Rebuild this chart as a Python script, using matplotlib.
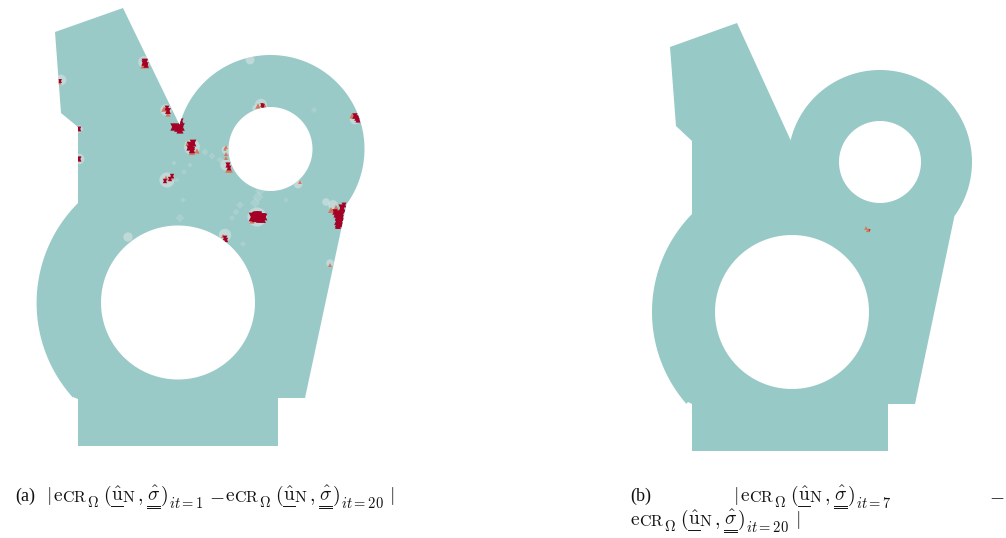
import numpy as np
import matplotlib.pyplot as plt
from matplotlib.path import Path
from matplotlib.patches import PathPatch

plt.rcParams["font.family"] = ["Liberation Serif", "DejaVu Serif"]
plt.rcParams["mathtext.fontset"] = "cm"

TEAL_A = "#99cac8"
TEAL_B = "#97c9c7"
DARK = "#a50026"
ORANGE = "#d5785a"
PALE = "#e3e8e6"
INK = "#111111"

# Panel (a) outline, image pixels
a_top = [(55, 32), (123, 8), (181, 128)]
a_bottom = [(305, 398), (278, 398), (278, 446), (78, 446), (78, 399), (73, 397)]
a_left = [(78, 127), (61, 113)]
a_ear = (270.5, 149, 94, -166, 36)
a_body = (178, 303, 141.4, 138, 225)
a_holes = [(270.5, 149, 42), (178, 302.5, 77)]

# Panel (b) outline, image pixels
b_top = [(670, 47), (737, 23), (791, 141)]
b_bottom = [(915, 404), (888, 404), (888, 451), (692, 451), (692, 404), (688, 402)]
b_left = [(692, 141), (676, 126)]
b_ear = (880, 162, 92, -166, 36)
b_body = (792, 312, 140, 139, 224.4)
b_holes = [(880, 162, 41), (792, 312, 77)]

# Error spots in panel (a): halos, faint mesh trails, orange rims, dark cores
a_pale_x = [144, 61, 166, 192, 79, 79, 167, 226, 261, 355, 257, 326, 333, 225, 298, 226, 250, 128, 330, 255]
a_pale_y = [62, 80, 110, 147, 129, 159, 180, 165, 105, 119, 217, 202, 205, 235, 184, 150, 60, 237, 263, 108]
a_pale_s = [70, 60, 70, 130, 30, 60, 120, 70, 80, 60, 190, 30, 50, 80, 40, 40, 40, 45, 30, 16]

a_faint_x = [180, 183, 177, 174, 205, 212, 220, 258, 255, 260, 240, 236, 232, 190, 184, 225, 232, 243, 286, 314]
a_faint_y = [218, 200, 180, 163, 152, 156, 160, 197, 203, 191, 205, 212, 218, 165, 172, 358, 322, 244, 200, 110]
a_faint_s = [20, 8, 6, 8, 14, 12, 12, 30, 26, 24, 16, 12, 10, 8, 8, 22, 14, 10, 8, 10]

a_orange_x = [143, 147, 59, 164, 168, 192, 188, 197, 229, 226, 226, 258, 264, 352, 252, 263, 331, 336, 300, 166, 172, 223, 330, 226, 225]
a_orange_y = [66, 66, 82, 109, 114, 152, 143, 151, 169, 147, 154, 106, 105, 116, 221, 220, 210, 208, 182, 178, 177, 236, 265, 158, 149]
a_orange_s = [14, 12, 14, 16, 14, 20, 14, 14, 30, 8, 8, 16, 14, 14, 14, 14, 18, 22, 8, 12, 12, 8, 8, 8, 6]

a_dark_x = [145, 146, 144, 60, 167, 168, 174, 178, 181, 181, 180, 191, 193, 189, 192, 79, 79, 165, 170, 172, 228, 229, 262, 263, 355, 357, 358, 253, 257, 261, 264, 256, 259, 335, 337, 340, 339, 342, 338, 344, 339, 225, 226]
a_dark_y = [62, 65, 63, 81, 108, 111, 127, 128, 121, 127, 130, 146, 143, 148, 150, 129, 159, 181, 179, 176, 165, 168, 105, 106, 116, 118, 120, 217, 217, 218, 217, 214, 214, 212, 214, 216, 220, 208, 226, 205, 223, 238, 240]
a_dark_s = [24, 16, 14, 8, 12, 18, 28, 30, 14, 30, 26, 36, 24, 14, 22, 12, 14, 10, 10, 10, 14, 12, 7, 7, 16, 16, 14, 40, 55, 50, 24, 16, 16, 16, 26, 50, 50, 26, 18, 12, 40, 12, 10]

# Single spot in panel (b)
b_orange_x = [866, 868]
b_orange_y = [228, 230]
b_orange_s = [7, 9]
b_dark_x = [869.5]
b_dark_y = [229.5]
b_dark_s = [3]

# Caption layout, offsets from the start of one e_CR term:
# text, x offset, baseline offset, font size, rules under it
term_pieces = [
    (r"$\mathrm{e}$", 0, 0, 14, 0),
    (r"$\mathrm{CR}$", 9, 1.5, 11.5, 0),
    (r"$\Omega$", 34, 6, 10.5, 0),
    (r"$($", 50, 0, 14, 0),
    (r"$\hat{\mathrm{u}}$", 58, 0, 14, 1),
    (r"$\mathrm{N}$", 69, 1.5, 11.5, 0),
    (r"$,$", 84, 0, 14, 0),
    (r"$\hat{\sigma}$", 94, 0, 14, 2),
    (r"$)$", 107, 0, 14, 0),
]
term_sub_x = 116
term_sub_dy = 7.5


def arc(cx, cy, r, a0, a1, n=120):
    t = np.radians(np.linspace(a0, a1, n))
    return list(zip(cx + r * np.cos(t), cy + r * np.sin(t)))


def shape_path(top, ear, bottom, body, left, holes):
    # outline runs clockwise on screen, holes the other way round
    pts = top + arc(*ear) + bottom + arc(*body) + left
    verts = pts + [pts[0]]
    codes = [Path.MOVETO] + [Path.LINETO] * (len(pts) - 1) + [Path.CLOSEPOLY]
    for cx, cy, r in holes:
        ring = arc(cx, cy, r, 360, 0, 160)
        verts += ring + [ring[0]]
        codes += [Path.MOVETO] + [Path.LINETO] * (len(ring) - 1) + [Path.CLOSEPOLY]
    return Path(verts, codes)


fig = plt.figure(figsize=(10.06, 5.38), dpi=100)
ax = fig.add_axes([0, 0, 1, 1])
ax.set_xlim(0, 1006)
ax.set_ylim(538, 0)
ax.axis("off")

patch_a = PathPatch(shape_path(a_top, a_ear, a_bottom, a_body, a_left, a_holes), fc=TEAL_A, ec="none")
patch_b = PathPatch(shape_path(b_top, b_ear, b_bottom, b_body, b_left, b_holes), fc=TEAL_B, ec="none")
ax.add_patch(patch_a)
ax.add_patch(patch_b)

# dark cores go in twice, up and down triangles, so they look like mesh cells
layers = [
    (a_faint_x, a_faint_y, a_faint_s, PALE, "D", 0.22, patch_a),
    (a_pale_x, a_pale_y, a_pale_s, PALE, "o", 0.5, patch_a),
    (a_orange_x, a_orange_y, a_orange_s, ORANGE, "^", 1, patch_a),
    (a_dark_x, a_dark_y, a_dark_s, DARK, "^", 1, patch_a),
    (a_dark_x, a_dark_y, a_dark_s, DARK, "v", 1, patch_a),
    (b_orange_x, b_orange_y, b_orange_s, ORANGE, "^", 1, patch_b),
    (b_dark_x, b_dark_y, b_dark_s, "#c0392b", "v", 1, patch_b),
]
for xs, ys, ss, col, mk, al, clip in layers:
    pts = ax.scatter(xs, ys, s=ss, c=col, marker=mk, alpha=al, linewidths=0, zorder=3)
    pts.set_clip_path(clip)


# Captions
def put_term(x, y, it):
    for s, dx, dy, size, rules in term_pieces:
        t = ax.text(x + dx, y + dy, s, fontsize=size, va="baseline", color=INK)
        if rules:
            w = t.get_window_extent(fig.canvas.get_renderer()).width
            for k in range(rules):
                ax.plot([x + dx, x + dx + w], [y + 4.5 + 2.2 * k] * 2, color=INK, lw=0.7)
    sub = "$it=" + it + "$"
    ax.text(x + term_sub_x, y + term_sub_dy, sub, fontsize=10.5, va="baseline", color=INK)


LABEL_FS = 13
ax.text(15, 501, "(a)", fontsize=LABEL_FS, va="baseline", color=INK)
ax.text(46, 501, "$|$", fontsize=14, va="baseline", color=INK)
put_term(53, 501, "1")
ax.text(209, 501, "$-$", fontsize=14, va="baseline", color=INK)
put_term(225, 501, "20")
ax.text(389, 501, "$|$", fontsize=14, va="baseline", color=INK)

ax.text(630, 501, "(b)", fontsize=LABEL_FS, va="baseline", color=INK)
ax.text(733, 501, "$|$", fontsize=14, va="baseline", color=INK)
put_term(740, 501, "7")
ax.text(989, 501, "$-$", fontsize=14, va="baseline", color=INK)
put_term(630, 525, "20")
ax.text(795, 525, "$|$", fontsize=14, va="baseline", color=INK)

fig.savefig("out.png", dpi=100)
